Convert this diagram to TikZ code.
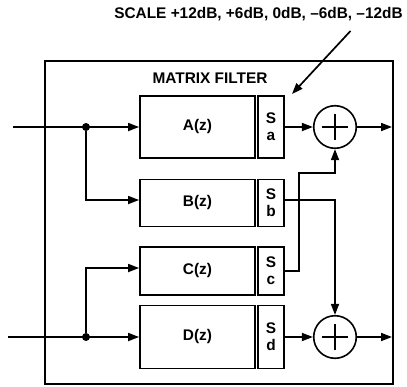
\documentclass[tikz,border=0pt]{standalone}
\usepackage{fontspec}
\setmainfont{Liberation Sans}
\usetikzlibrary{arrows.meta}

\tikzset{
  filt/.style={draw, line width=1.8pt, minimum width=115pt, inner sep=0pt,
    font=\bfseries\fontsize{15.4}{17}\selectfont},
  sbox/.style={draw, line width=1.8pt, minimum width=26pt, inner sep=0pt,
    align=center, font=\bfseries\fontsize{15.4}{17}\selectfont},
  summer/.style={draw, circle, line width=1.6pt, minimum size=42.6pt, inner sep=0pt,
    path picture={\draw[line width=1.6pt]
      ([xshift=-13pt]path picture bounding box.center) -- ++(26pt,0)
      ([yshift=-13pt]path picture bounding box.center) -- ++(0,26pt);}},
  sig/.style={line width=1.7pt, -{Triangle[length=11pt,width=8pt]}},
  junc/.style={circle, fill, inner sep=0pt, minimum size=8pt}
}

\begin{document}
\begin{tikzpicture}[x=1pt, y=-1pt]
\useasboundingbox (0,0) rectangle (407,386);

% frame and titles
\node[draw, line width=1.8pt, minimum width=348pt, minimum height=323pt] (frame) at (219,222.5) {};
\node[font=\bfseries\fontsize{15.4}{17}\selectfont] (title) at (210,78) {MATRIX FILTER};
\node[font=\bfseries\fontsize{15.4}{17}\selectfont, inner sep=0pt] (scale) at (258.5,14) {SCALE +12dB, +6dB, 0dB, --6dB, --12dB};
\coordinate (sgain) at (292,94);
\draw[sig] ([xshift=92pt,yshift=-10pt]scale.south) -- (sgain);

% filters and scalers
\node[filt, minimum height=62pt] (A) at (197.5,127) {A(z)};
\node[sbox, minimum height=62pt] (Sa) at (271,127) {S\\a};
\node[filt, minimum height=47pt] (B) at (197.5,203) {B(z)};
\node[sbox, minimum height=47pt] (Sb) at (271,203) {S\\b};
\node[filt, minimum height=48pt] (C) at (197.5,271) {C(z)};
\node[sbox, minimum height=48pt] (Sc) at (271,271) {S\\c};
\node[filt, minimum height=63pt] (D) at (197.5,337) {D(z)};
\node[sbox, minimum height=63pt] (Sd) at (271,337) {S\\d};

% summers
\node[summer] (sumA) at (335,127) {};
\node[summer] (sumD) at (335,337) {};

% inputs
\coordinate (inA) at (13,127);
\coordinate (inD) at (8,337);
\draw[sig] (inA) -- (A);
\draw[sig] (inD) -- (D);
\node[junc] (j1) at (86,127) {};
\node[junc] (j2) at (86,337) {};
\draw[sig] (j1) |- ([yshift=3pt]B.west);
\draw[sig] (j2) |- ([yshift=3pt]C.west);

% scaler outputs
\draw[sig] (Sa) -- (sumA);
\draw[sig] (Sd) -- (sumD);
\draw[sig] ([yshift=3pt]Sb.east) -| (sumD.north);
\draw[sig] (Sc.east) -- ++(14pt,0) |- ([yshift=-24pt]sumA.south) -- (sumA.south);

% outputs
\coordinate (outA) at (392,127);
\coordinate (outD) at (392,337);
\draw[sig] (sumA) -- (outA);
\draw[sig] (sumD) -- (outD);
\end{tikzpicture}
\end{document}
